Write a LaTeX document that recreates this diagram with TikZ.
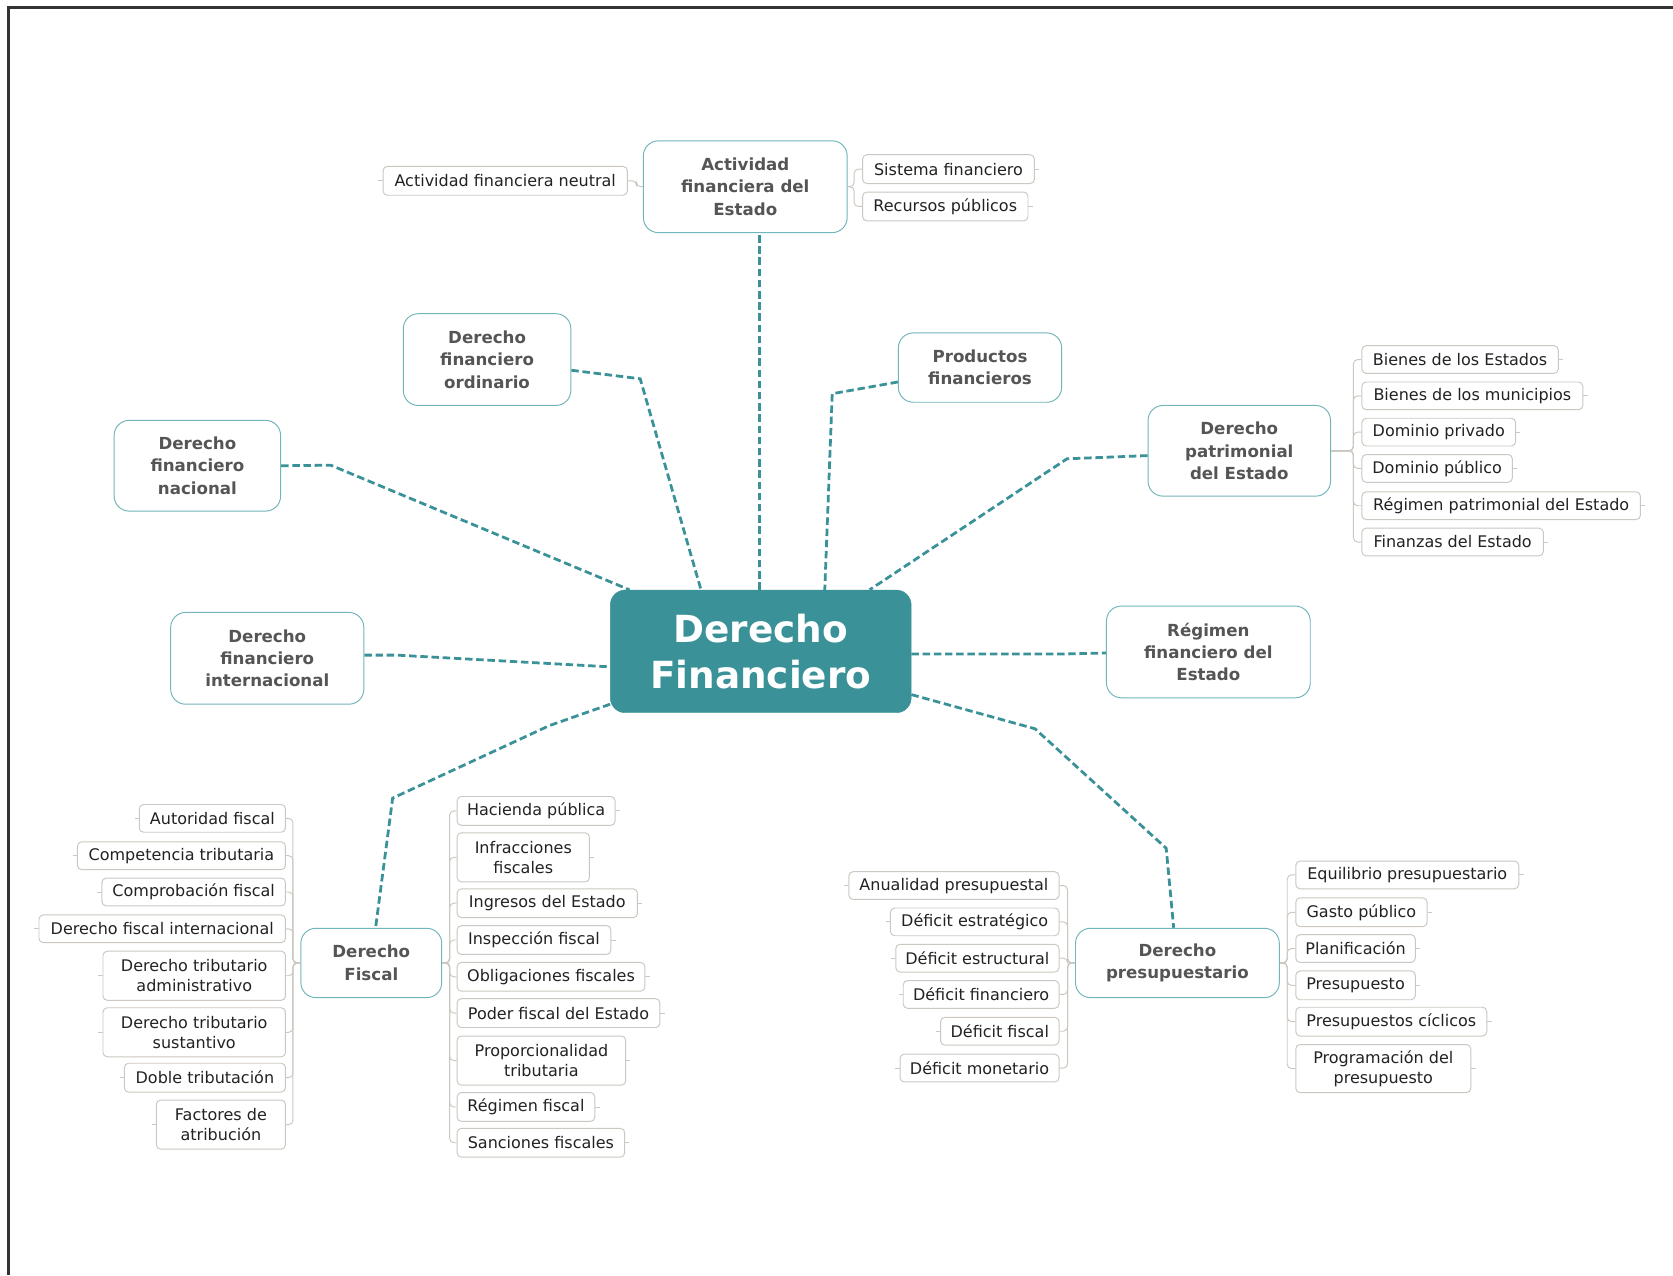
\documentclass[tikz,border=0pt]{standalone}
\usepackage{fontspec}
\setmainfont{DejaVu Sans}
\usetikzlibrary{calc,backgrounds}
\definecolor{tealf}{HTML}{3A9298}
\definecolor{tealb}{HTML}{72B5BA}
\definecolor{sectxt}{HTML}{555555}
\definecolor{chb}{HTML}{CCC7C0}
\definecolor{chtxt}{HTML}{222222}
\begin{document}
\begin{tikzpicture}[x=1pt,y=-1pt,
  mainnode/.style={rounded corners=14pt, fill=tealf, draw=tealf, text=white,
    font=\fontsize{35}{43}\selectfont\bfseries, align=center,
    minimum width=282pt, minimum height=115pt, inner sep=0pt},
  secnode/.style={rounded corners=14pt, draw=tealb, line width=0.9pt, fill=white,
    text=sectxt, font=\fontsize{15.6}{21}\selectfont\bfseries, align=center, inner sep=0pt},
  chd/.style={rounded corners=4pt, draw=chb, line width=0.9pt, fill=white,
    text=chtxt, font=\fontsize{15}{19}\selectfont, align=center, inner sep=0pt},
  link/.style={draw=tealf, line width=2.6pt, dash pattern=on 7pt off 3.5pt},
  brk/.style={draw=chb, line width=0.9pt, rounded corners=4pt},
  frame/.style={draw=black!80, line width=2pt}]
\useasboundingbox (0,0) rectangle (1568,1195);
\coordinate (ftop) at (8,7);
\coordinate (fright) at (1568,7);
\coordinate (fbot) at (8,1195);
\draw[frame] (fright) -- (ftop) -- (fbot);

% central node
\node[mainnode] (main) at (713,610.5) {Derecho\\Financiero};

% secondary nodes
\node[secnode, minimum width=191pt, minimum height=86pt] (act) at (698.5,175) {Actividad\\financiera del\\Estado};
\node[secnode, minimum width=157pt, minimum height=86pt] (ord) at (456.5,337) {Derecho\\financiero\\ordinario};
\node[secnode, minimum width=153pt, minimum height=65pt] (prod) at (918.5,344.5) {Productos\\financieros};
\node[secnode, minimum width=156pt, minimum height=85pt] (nac) at (185,436.5) {Derecho\\financiero\\nacional};
\node[secnode, minimum width=171pt, minimum height=85pt] (pat) at (1161.5,422.5) {Derecho\\patrimonial\\del Estado};
\node[secnode, minimum width=181pt, minimum height=86pt] (int) at (250.5,617) {Derecho\\financiero\\internacional};
\node[secnode, minimum width=191pt, minimum height=86pt] (reg) at (1132.5,611) {Régimen\\financiero del\\Estado};
\node[secnode, minimum width=132pt, minimum height=65pt] (fis) at (348,902.5) {Derecho\\Fiscal};
\node[secnode, minimum width=191pt, minimum height=65pt] (pre) at (1103.5,902.5) {Derecho\\presupuestario};

% main connectors
\begin{scope}[on background layer]
\draw[link] (main.north -| 712,0) -- (act.south -| 712,0);
\draw[link] (ord.east |- 0,347) -- (600,355) -- (main.north -| 657,0);
\draw[link] (prod.west |- 0,358) -- (780,369) -- (main.north -| 773,0);
\draw[link] (nac.east) -- (310,436) -- (main.north -| 590,0);
\draw[link] (pat.west |- 0,427) -- (1000,430) -- (main.north -| 815,0);
\draw[link] (int.east |- 0,614) -- (372,614) -- (main.west |- 0,625);
\draw[link] (main.east |- 0,613) -- (995,613) -- (reg.west |- 0,612);
\draw[link] (main.west |- 0,660) -- (515,680) -- (368,748) -- (fis.north -| 352,0);
\draw[link] (main.east |- 0,651) -- (970,683) -- (1093,795) -- (pre.north -| 1100,0);
\end{scope}

% children of Actividad financiera del Estado
\node[chd, minimum width=229pt, minimum height=27pt] (anf) at (473.5,169.5) {Actividad financiera neutral};
\draw[brk] (act.west) -- ++(-6,0) |- (anf.east);
\draw[brk] (anf.west) -- ++(-4,0);
\node[chd, anchor=west, minimum width=161pt, minimum height=27pt] (sis) at (808,158.5) {Sistema financiero};
\node[chd, anchor=west, minimum width=155pt, minimum height=27pt] (rec) at (808,193.5) {Recursos públicos};
\foreach \n in {sis,rec}{
  \draw[brk] (act.east) -- ++(6,0) |- (\n.west);
  \draw[brk] (\n.east) -- ++(4,0);
}

% children of Derecho patrimonial del Estado
\foreach \n/\y/\w/\t in {p1/337/184/{Bienes de los Estados}, p2/371/207/{Bienes de los municipios},
  p3/405/144/{Dominio privado}, p4/439/141/{Dominio público},
  p5/474/261/{Régimen patrimonial del Estado}, p6/508/170/{Finanzas del Estado}}{
  \node[chd, anchor=west, minimum width=\w pt, minimum height=26pt] (\n) at (1276,\y) {\t};
  \draw[brk] (pat.east) -- ++(21,0) |- (\n.west);
  \draw[brk] (\n.east) -- ++(4,0);
}

% children of Derecho Fiscal (left)
\foreach \n/\y/\w/\h/\t in {fl1/767/137/26/{Autoridad fiscal}, fl2/802/195/26/{Competencia tributaria},
  fl3/836/172/26/{Comprobación fiscal}, fl4/870.5/231/26/{Derecho fiscal internacional},
  fl5/914.5/171/46/{Derecho tributario\\administrativo}, fl6/967.5/171/46/{Derecho tributario\\sustantivo},
  fl7/1010/151/27/{Doble tributación}, fl8/1054/121/46/{Factores de\\atribución}}{
  \node[chd, anchor=east, minimum width=\w pt, minimum height=\h pt] (\n) at (268,\y) {\t};
  \draw[brk] (fis.west) -- ++(-7,0) |- (\n.east);
  \draw[brk] (\n.west) -- ++(-4,0);
}

% children of Derecho Fiscal (right)
\foreach \n/\y/\w/\h/\t in {fr1/760/148/27/{Hacienda pública}, fr2/803.5/124/46/{Infracciones\\fiscales},
  fr3/846.5/169/27/{Ingresos del Estado}, fr4/881/144/27/{Inspección fiscal},
  fr5/915.5/176/27/{Obligaciones fiscales}, fr6/949.5/190/27/{Poder fiscal del Estado},
  fr7/994/158/46/{Proporcionalidad\\tributaria}, fr8/1037.5/129/27/{Régimen fiscal},
  fr9/1071/157/27/{Sanciones fiscales}}{
  \node[chd, anchor=west, minimum width=\w pt, minimum height=\h pt] (\n) at (428,\y) {\t};
  \draw[brk] (fis.east) -- ++(7,0) |- (\n.west);
  \draw[brk] (\n.east) -- ++(4,0);
}

% children of Derecho presupuestario (left)
\foreach \n/\y/\w/\t in {pl1/830/197/{Anualidad presupuestal}, pl2/864/158/{Déficit estratégico},
  pl3/898/153/{Déficit estructural}, pl4/932/146/{Déficit financiero},
  pl5/966.5/111/{Déficit fiscal}, pl6/1001/149/{Déficit monetario}}{
  \node[chd, anchor=east, minimum width=\w pt, minimum height=26pt] (\n) at (993,\y) {\t};
  \draw[brk] (pre.west) -- ++(-7,0) |- (\n.east);
  \draw[brk] (\n.west) -- ++(-4,0);
}

% children of Derecho presupuestario (right)
\foreach \n/\y/\w/\h/\t in {pr1/820/209/26/{Equilibrio presupuestario}, pr2/855/123/27/{Gasto público},
  pr3/889/112/26/{Planificación}, pr4/923.5/112/27/{Presupuesto},
  pr5/957.5/179/27/{Presupuestos cíclicos}, pr6/1001.5/164/45/{Programación del\\presupuesto}}{
  \node[chd, anchor=west, minimum width=\w pt, minimum height=\h pt] (\n) at (1214,\y) {\t};
  \draw[brk] (pre.east) -- ++(7,0) |- (\n.west);
  \draw[brk] (\n.east) -- ++(4,0);
}
\end{tikzpicture}
\end{document}
